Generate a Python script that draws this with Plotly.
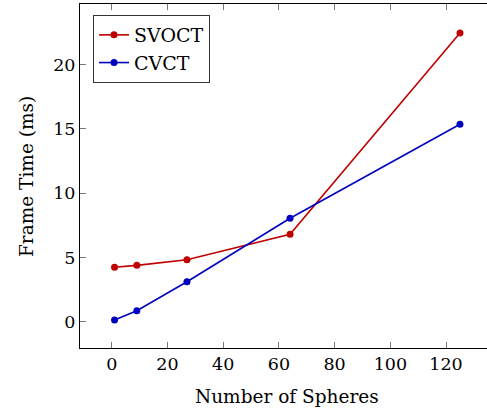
import plotly.graph_objects as go

# Frame time measurements per scene size
spheres = [1, 9, 27, 64, 125]
svoct_ms = [4.25, 4.4, 4.84, 6.81, 22.45]
cvct_ms = [0.16, 0.88, 3.13, 8.06, 15.36]

x_ticks = [0, 20, 40, 60, 80, 100, 120]
y_ticks = [0, 5, 10, 15, 20]

RED = "#bf0000"
BLUE = "#0000bf"
FONT = "DejaVu Serif"

fig = go.Figure()
fig.add_trace(go.Scatter(
    x=spheres, y=svoct_ms, name="SVOCT", mode="lines+markers",
    line=dict(color=RED, width=1.6),
    marker=dict(color=RED, size=7, symbol="circle"),
))
fig.add_trace(go.Scatter(
    x=spheres, y=cvct_ms, name="CVCT", mode="lines+markers",
    line=dict(color=BLUE, width=1.6),
    marker=dict(color=BLUE, size=7, symbol="circle"),
))

axis_common = dict(
    showgrid=False, zeroline=False,
    showline=True, linecolor="black", linewidth=1,
    ticks="inside", ticklen=6, tickwidth=1, tickcolor="#777777",
    tickfont=dict(family=FONT, size=17.5, color="black"),
)

fig.update_layout(
    width=487, height=410,
    margin=dict(l=80, r=0, t=4, b=62),
    paper_bgcolor="white", plot_bgcolor="white",
    font=dict(family=FONT, color="black"),
    showlegend=True,
    legend=dict(
        x=0.032, y=0.968, xanchor="left", yanchor="top",
        bgcolor="white", bordercolor="#333333", borderwidth=1,
        font=dict(family=FONT, size=19, color="black"),
        itemwidth=30,
    ),
    xaxis=dict(
        range=[-11.4, 134.7], tickvals=x_ticks, mirror="ticks",
        **axis_common,
    ),
    yaxis=dict(
        range=[-2.02, 24.7], tickvals=y_ticks,
        **axis_common,
    ),
    annotations=[
        dict(text="Number of Spheres", xref="paper", yref="paper",
             x=(287 - 80) / 407, y=-(396 - 348) / 344,
             xanchor="center", yanchor="middle", showarrow=False,
             font=dict(family=FONT, size=18.5, color="black")),
        dict(text="Frame Time (ms)", xref="paper", yref="paper",
             x=-(80 - 26) / 407, y=(348 - 177) / 344, textangle=-90,
             xanchor="center", yanchor="middle", showarrow=False,
             font=dict(family=FONT, size=18.5, color="black")),
    ],
)

fig.write_html("out.html")
